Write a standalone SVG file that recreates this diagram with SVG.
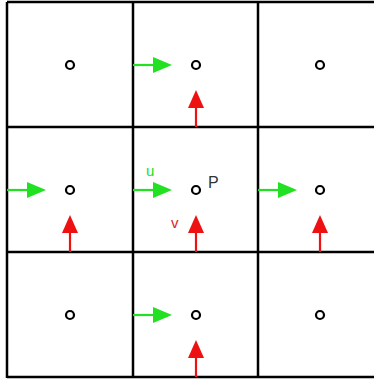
<svg xmlns="http://www.w3.org/2000/svg" width="374" height="383" viewBox="0 0 374 383">
<style>
.grid{stroke:#000;stroke-width:2.5;fill:none}
.pt{fill:none;stroke:#000;stroke-width:2.2}
.ua{stroke:#22e022;stroke-width:2.2;fill:none}
.va{stroke:#ee1111;stroke-width:2.2;fill:none}
.uh{fill:#22e022}
.vh{fill:#ee1111}
text{font-family:"Liberation Sans",Arial,sans-serif}
</style>
<rect width="374" height="383" fill="#fff"/>
<g id="grid">
<line class="grid" x1="7" y1="2" x2="374" y2="2"/>
<line class="grid" x1="7" y1="127" x2="374" y2="127"/>
<line class="grid" x1="7" y1="252" x2="374" y2="252"/>
<line class="grid" x1="7" y1="377" x2="374" y2="377"/>
<line class="grid" x1="7" y1="2" x2="7" y2="378"/>
<line class="grid" x1="133" y1="2" x2="133" y2="378"/>
<line class="grid" x1="258" y1="2" x2="258" y2="378"/>
</g>
<g id="points">
<circle class="pt" cx="70" cy="65" r="4"/>
<circle class="pt" cx="196" cy="65" r="4"/>
<circle class="pt" cx="320" cy="65" r="4"/>
<circle class="pt" cx="70" cy="190" r="4"/>
<circle class="pt" cx="196" cy="190" r="4"/>
<circle class="pt" cx="320" cy="190" r="4"/>
<circle class="pt" cx="70" cy="315" r="4"/>
<circle class="pt" cx="196" cy="315" r="4"/>
<circle class="pt" cx="320" cy="315" r="4"/>
</g>
<g id="connectors">
<!-- green u arrows -->
<line class="ua" x1="133" y1="65" x2="156" y2="65"/><polygon class="uh" points="153,57 172,65 153,73"/>
<line class="ua" x1="7" y1="190" x2="30" y2="190"/><polygon class="uh" points="27,182 46,190 27,198"/>
<line class="ua" x1="133" y1="190" x2="156" y2="190"/><polygon class="uh" points="153,182 172,190 153,198"/>
<line class="ua" x1="258" y1="190" x2="281" y2="190"/><polygon class="uh" points="278,182 297,190 278,198"/>
<line class="ua" x1="133" y1="315" x2="156" y2="315"/><polygon class="uh" points="153,307 172,315 153,323"/>
<!-- red v arrows -->
<line class="va" x1="196" y1="127" x2="196" y2="104"/><polygon class="vh" points="188,108 196,90 204,108"/>
<line class="va" x1="70" y1="252" x2="70" y2="229"/><polygon class="vh" points="62,233 70,215 78,233"/>
<line class="va" x1="196" y1="252" x2="196" y2="229"/><polygon class="vh" points="188,233 196,215 204,233"/>
<line class="va" x1="320" y1="252" x2="320" y2="229"/><polygon class="vh" points="312,233 320,215 328,233"/>
<line class="va" x1="196" y1="377" x2="196" y2="354"/><polygon class="vh" points="188,358 196,340 204,358"/>
</g>
<g id="labels">
<text x="146" y="176" font-size="15" fill="#22dd22">u</text>
<text x="171" y="228" font-size="15" fill="#dd2222">v</text>
<text x="208" y="188" font-size="16" fill="#333">P</text>
</g>
</svg>
